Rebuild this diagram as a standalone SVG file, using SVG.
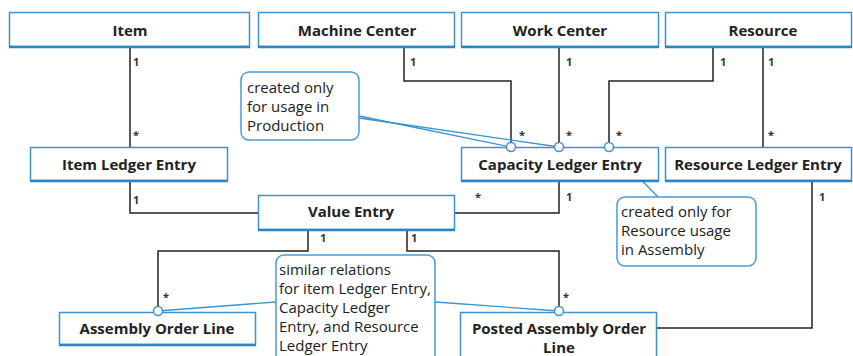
<svg xmlns="http://www.w3.org/2000/svg" width="853" height="356" viewBox="0 0 853 356">
<style>
.box{fill:#fff;stroke:#3d93d1;stroke-width:1.5}
.sh{stroke:#2b86c8;stroke-width:2.5}
.t{font-family:"Open Sans","Noto Sans",sans-serif;font-size:15px;font-weight:bold;fill:#222;text-anchor:middle}
.n{font-family:"Open Sans","Noto Sans",sans-serif;font-size:15px;fill:#222}
.m{font-family:"Open Sans","Noto Sans",sans-serif;font-size:11px;font-weight:bold;fill:#333}
.c{fill:none;stroke:#222;stroke-width:1.5}
.b{fill:none;stroke:#3d93d1;stroke-width:1.3}
.note{fill:#fff;stroke:#4a9bd6;stroke-width:1.5}
.dot{fill:#fff;stroke:#3d93d1;stroke-width:1.5}
</style>
<rect width="853" height="356" fill="#fff"/>
<g id="connectors">
<path class="c" d="M130 48V147"/>
<path class="c" d="M404 48V81H511V147"/>
<path class="c" d="M559 48V147"/>
<path class="c" d="M713 48V81H609V147"/>
<path class="c" d="M763 48V147"/>
<path class="c" d="M130 182V213H258"/>
<path class="c" d="M559 182V213H455"/>
<path class="c" d="M308 231V251H158V311"/>
<path class="c" d="M407 231V251H559V311"/>
<path class="c" d="M812 182V328H657"/>
<path class="b" d="M359 116L511 147"/>
<path class="b" d="M359 118L559 147"/>
<path class="b" d="M609 147L658 197"/>
<path class="b" d="M158 311L276 302"/>
<path class="b" d="M435 302L559 311"/>
<text class="m" x="133" y="66">1</text>
<text class="m" x="133" y="139">*</text>
<text class="m" x="410" y="66">1</text>
<text class="m" x="566" y="66">1</text>
<text class="m" x="720" y="66">1</text>
<text class="m" x="768" y="66">1</text>
<text class="m" x="519" y="139">*</text>
<text class="m" x="566" y="139">*</text>
<text class="m" x="616" y="139">*</text>
<text class="m" x="768" y="139">*</text>
<text class="m" x="133" y="204">1</text>
<text class="m" x="566" y="201">1</text>
<text class="m" x="475" y="201">*</text>
<text class="m" x="819" y="201">1</text>
<text class="m" x="320" y="242">1</text>
<text class="m" x="411" y="242">1</text>
<text class="m" x="163" y="301">*</text>
<text class="m" x="563" y="301">*</text>
</g>
<g id="item"><rect class="box" x="9.5" y="12.5" width="240" height="34"/><line class="sh" x1="9" y1="47" x2="250" y2="47"/><text class="t" x="130" y="36">Item</text></g>
<g id="machine-center"><rect class="box" x="258.5" y="12.5" width="196" height="34"/><line class="sh" x1="258" y1="47" x2="455" y2="47"/><text class="t" x="357" y="36">Machine Center</text></g>
<g id="work-center"><rect class="box" x="461.5" y="12.5" width="197" height="34"/><line class="sh" x1="461" y1="47" x2="659" y2="47"/><text class="t" x="560" y="36">Work Center</text></g>
<g id="resource"><rect class="box" x="665.5" y="12.5" width="186" height="34"/><line class="sh" x1="665" y1="47" x2="852" y2="47"/><text class="t" x="763" y="36">Resource</text></g>
<g id="item-ledger-entry"><rect class="box" x="30.5" y="147.5" width="197" height="33"/><line class="sh" x1="30" y1="181" x2="228" y2="181"/><text class="t" x="129" y="170">Item Ledger Entry</text></g>
<g id="capacity-ledger-entry"><rect class="box" x="461.5" y="147.5" width="197" height="33"/><line class="sh" x1="461" y1="181" x2="659" y2="181"/><text class="t" x="560" y="170">Capacity Ledger Entry</text></g>
<g id="resource-ledger-entry"><rect class="box" x="665.5" y="147.5" width="186" height="33"/><line class="sh" x1="665" y1="181" x2="852" y2="181"/><text class="t" x="758" y="170">Resource Ledger Entry</text></g>
<g id="value-entry"><rect class="box" x="258.5" y="195.5" width="196" height="34"/><line class="sh" x1="258" y1="230" x2="455" y2="230"/><text class="t" x="351" y="217">Value Entry</text></g>
<g id="assembly-order-line"><rect class="box" x="59.5" y="312.5" width="196" height="32"/><line class="sh" x1="59" y1="345" x2="256" y2="345"/><text class="t" x="157" y="334">Assembly Order Line</text></g>
<g id="posted-assembly-order-line"><rect class="box" x="460.5" y="312.5" width="196" height="50"/><text class="t" x="559" y="334">Posted Assembly Order</text><text class="t" x="559" y="353">Line</text></g>
<g id="note-production"><rect class="note" x="241" y="72" width="118" height="68" rx="8"/><text class="n" x="247" y="93">created only</text><text class="n" x="247" y="112">for usage in</text><text class="n" x="247" y="131">Production</text></g>
<g id="note-assembly"><rect class="note" x="617" y="197" width="139" height="69" rx="8"/><text class="n" x="621" y="217">created only for</text><text class="n" x="621" y="236">Resource usage</text><text class="n" x="621" y="255">in Assembly</text></g>
<g id="note-similar"><rect class="note" x="276" y="255" width="159" height="110" rx="8"/><text class="n" x="279" y="275">similar relations</text><text class="n" x="279" y="294">for item Ledger Entry,</text><text class="n" x="279" y="313">Capacity Ledger</text><text class="n" x="279" y="332">Entry, and Resource</text><text class="n" x="279" y="351">Ledger Entry</text></g>
<g id="markers">
<circle class="dot" cx="511" cy="147" r="4.5"/>
<circle class="dot" cx="559" cy="147" r="4.5"/>
<circle class="dot" cx="609" cy="147" r="4.5"/>
<circle class="dot" cx="158" cy="311" r="4.5"/>
<circle class="dot" cx="559" cy="311" r="4.5"/>
</g>
</svg>
